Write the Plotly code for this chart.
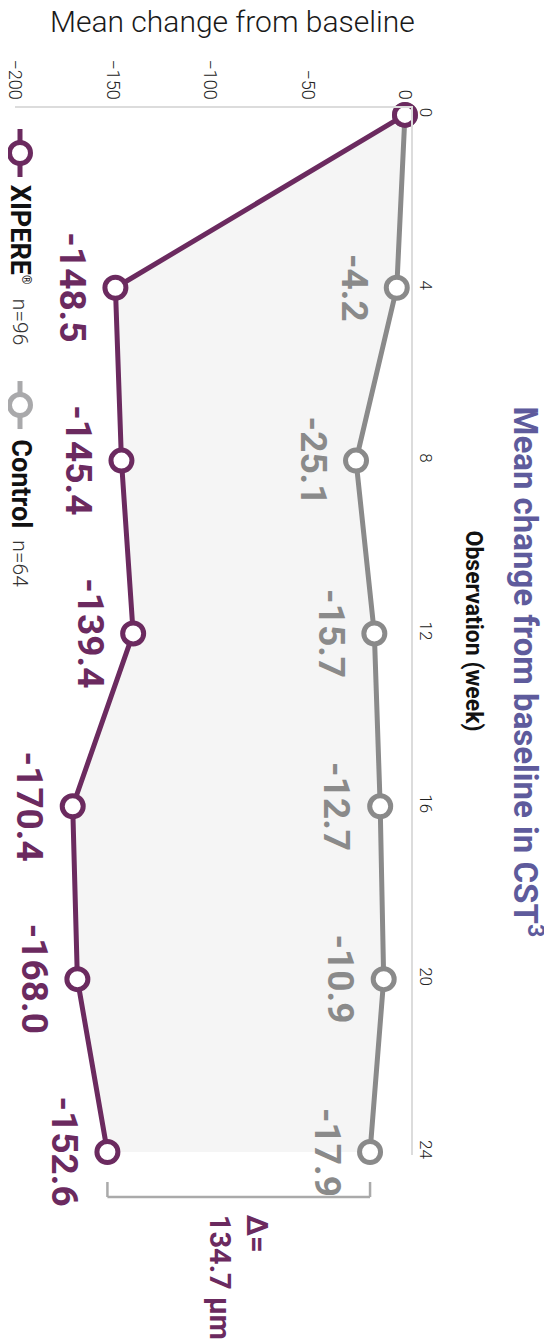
import plotly.graph_objects as go

# ---- data -------------------------------------------------------------------
weeks = [0, 4, 8, 12, 16, 20, 24]
xipere = [0, -148.5, -145.4, -139.4, -170.4, -168.0, -152.6]
control = [0, -4.2, -25.1, -15.7, -12.7, -10.9, -17.9]
value_ticks = [-200, -150, -100, -50, 0]
week_ticks = [0, 4, 8, 12, 16, 20, 24]
series_names = ["XIPERE", "Control"]
series_n = ["n=96", "n=64"]

# ---- style ------------------------------------------------------------------
PURPLE = "#6b2a5f"
GREY = "#8a8a8a"
LEGEND_GREY = "#a9a9ab"
TITLE = "#5e5b9c"
FONT = "Roboto"

fig = go.Figure()

fig.add_trace(go.Scatter(x=control, y=weeks, mode="lines+markers",
                         line=dict(color=GREY, width=5),
                         marker=dict(size=21, color="white",
                                     line=dict(color=GREY, width=5)),
                         cliponaxis=False, hoverinfo="skip"))

fig.add_trace(go.Scatter(x=xipere, y=weeks, mode="lines+markers",
                         fill="tonextx", fillcolor="#f5f5f5",
                         line=dict(color=PURPLE, width=5),
                         marker=dict(size=21, color="white",
                                     line=dict(color=PURPLE, width=5)),
                         cliponaxis=False, hoverinfo="skip"))

# value labels (rotated like the rest of the chart)
for wk, xv, cv in zip(weeks[1:], xipere[1:], control[1:]):
    fig.add_annotation(x=xv, y=wk, text=f"{xv:.1f}", textangle=90,
                       xshift=-43, showarrow=False,
                       xanchor="center", yanchor="middle",
                       font=dict(family=FONT, size=37, color=PURPLE, weight="bold"))
    fig.add_annotation(x=cv, y=wk, text=f"{cv:.1f}", textangle=90,
                       xshift=-43, showarrow=False,
                       xanchor="center", yanchor="middle",
                       font=dict(family=FONT, size=37, color=GREY, weight="bold"))

# difference bracket at week 24
x_a, x_b = xipere[-1], control[-1]
for sh in [dict(x0=x_a, x1=x_a, y0=-0.0258, y1=-0.0401),
           dict(x0=x_a, x1=x_b, y0=-0.0401, y1=-0.0401),
           dict(x0=x_b, x1=x_b, y0=-0.0258, y1=-0.0401)]:
    fig.add_shape(type="line", xref="x", yref="paper",
                  line=dict(color="#aaaaaa", width=2.5), **sh)

fig.add_annotation(x=(x_a + x_b) / 2, xref="x", y=-0.0554, yref="paper",
                   xanchor="center", yanchor="top",
                   text=f"Δ=<br>{x_b - x_a:.1f} µm",
                   textangle=90, align="left", showarrow=False,
                   font=dict(family=FONT, size=29, color=PURPLE, weight="bold"))

# legend drawn by hand (rotated)
legend_rows = [(PURPLE, 0.957, 0.9284, 0.8195), (LEGEND_GREY, 0.7163, 0.6858, 0.5893)]
for (col, ysym, ytxt, yn), name, n in zip(legend_rows, series_names, series_n):
    fig.add_shape(type="line", xref="paper", yref="paper",
                  xsizemode="pixel", ysizemode="pixel", xanchor=0, yanchor=ysym,
                  x0=5, x1=5, y0=-24, y1=24, line=dict(color=col, width=5))
    fig.add_shape(type="circle", xref="paper", yref="paper",
                  xsizemode="pixel", ysizemode="pixel", xanchor=0, yanchor=ysym,
                  x0=-5.5, x1=15.5, y0=-10.5, y1=10.5,
                  fillcolor="white", line=dict(color=col, width=5))
    label = f"<b>{name}</b>"
    if name == "XIPERE":
        label += "<sup><span style='font-size:12px'>®</span></sup>"
    fig.add_annotation(x=0.013, y=ytxt, xref="paper", yref="paper",
                       xanchor="center", yanchor="top",
                       text=label, textangle=90, showarrow=False,
                       font=dict(family=FONT, size=27, color="#111111"))
    fig.add_annotation(x=0.013, y=yn, xref="paper", yref="paper",
                       xanchor="center", yanchor="top",
                       text=n, textangle=90, showarrow=False,
                       font=dict(family=FONT, size=21, color="#333333", weight=300))

# titles
fig.add_annotation(x=0.548, y=1.0822, xref="paper", yref="paper",
                   xanchor="center", yanchor="middle",
                   text="Mean change from baseline", showarrow=False,
                   font=dict(family=FONT, size=30, color="#1a1a1a", weight=300))
fig.add_annotation(x=1.295, y=0.461, xref="paper", yref="paper",
                   xanchor="center", yanchor="middle",
                   text="Mean change from baseline in CST<sup>3</sup>",
                   textangle=90, showarrow=False,
                   font=dict(family=FONT, size=33, color=TITLE, weight="bold"))
fig.add_annotation(x=1.159, y=0.5, xref="paper", yref="paper",
                   xanchor="center", yanchor="middle",
                   text="Observation (week)", textangle=90, showarrow=False,
                   font=dict(family=FONT, size=23, color="#111111", weight="bold"))

fig.update_xaxes(range=[-200, 3.1], side="top", tickvals=value_ticks,
                 tickangle=90, showgrid=False, zeroline=False, automargin=False,
                 ticklabeloverflow="allow",
                 showline=True, linecolor="#dcdcdc", linewidth=2,
                 tickfont=dict(family=FONT, size=18, color="#222222", weight=300))
fig.update_yaxes(range=[24.07, -0.16], side="right", tickvals=week_ticks,
                 tickangle=90, showgrid=False, zeroline=False, automargin=False,
                 ticklabeloverflow="allow",
                 showline=True, linecolor="#dcdcdc", linewidth=2,
                 tickfont=dict(family=FONT, size=17, color="#222222", weight=300))

# the page adds a small body margin, so the figure is pulled up/left a little
fig.update_layout(width=552, height=1344, showlegend=False,
                  margin=dict(l=7, r=149, t=100, b=197),
                  plot_bgcolor="white", paper_bgcolor="white",
                  font=dict(family=FONT))

fig.write_html("out.html")
